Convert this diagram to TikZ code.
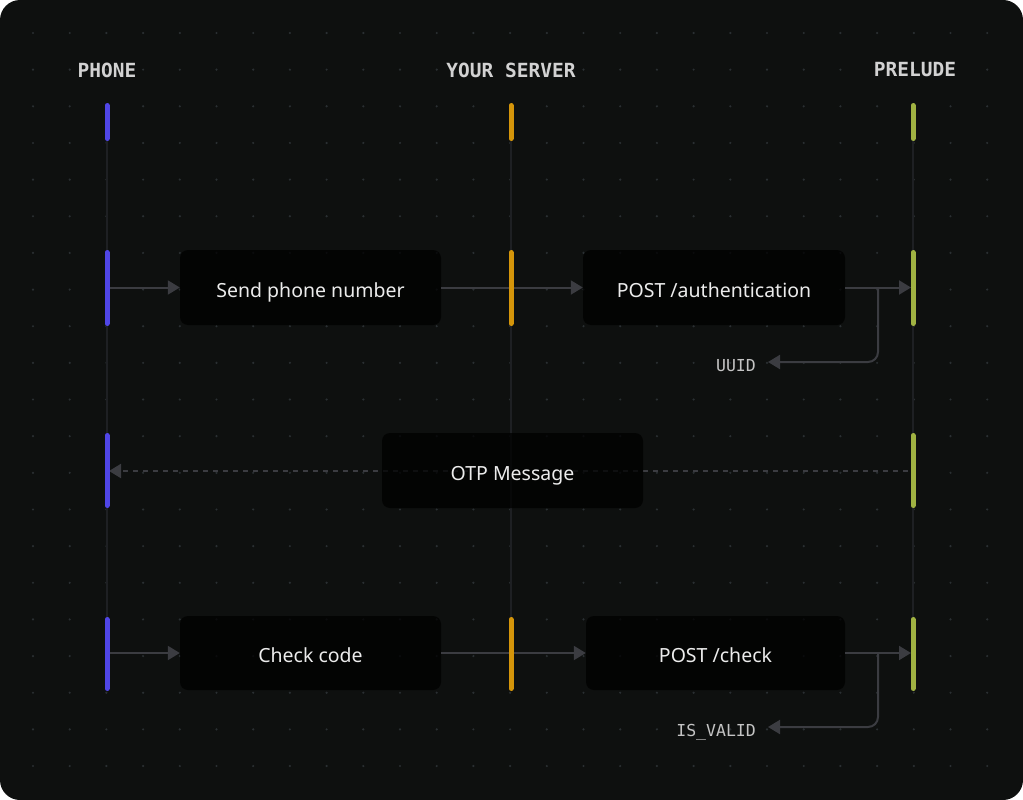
\documentclass[tikz,border=0pt]{standalone}
\usepackage{fontspec}
\setmainfont{Noto Sans}
\setmonofont{DejaVu Sans Mono}
\usetikzlibrary{arrows.meta}
\definecolor{bgc}{HTML}{0E100F}
\definecolor{dotc}{HTML}{2A2F32}
\definecolor{lifec}{HTML}{1E2023}
\definecolor{connc}{HTML}{3B3C41}
\definecolor{phonec}{HTML}{5046E6}
\definecolor{serverc}{HTML}{D4950A}
\definecolor{preludec}{HTML}{A0B242}
\definecolor{labelc}{HTML}{ECECEC}
\definecolor{headc}{HTML}{D2D2D2}
\definecolor{monoc}{HTML}{C4C4C4}
\begin{document}
\begin{tikzpicture}[x=1pt,y=-1pt,
  msgbox/.style={rectangle, rounded corners=8pt, fill=black, fill opacity=0.75, text opacity=1,
    text=labelc, font=\fontsize{19.5}{22}\selectfont, inner sep=0pt, text height=19pt, text depth=0pt},
  head/.style={text=headc, font=\ttfamily\bfseries\fontsize{19.5}{22}\selectfont, inner sep=0pt},
  retlabel/.style={text=monoc, font=\ttfamily\fontsize{16.5}{18}\selectfont, inner xsep=12pt, inner ysep=0pt,
    text height=18pt, text depth=0pt},
  conn/.style={draw=connc, line width=2pt, -{Triangle[length=12pt,width=14pt]}},
  otpdash/.style={dash pattern=on 5pt off 5pt},
  lifeline/.style={draw=lifec, line width=1.5pt},
  barline/.style={line width=5pt, line cap=round}]
\useasboundingbox (0,0) rectangle (1023,800);
\fill[white] (0,0) rectangle (1023,800);
\fill[bgc, rounded corners=20pt] (0,0) rectangle (1023,800);
% dot grid
\foreach \i in {0,...,26}{
  \foreach \j in {0,...,20}{
    \fill[dotc] (33+36.7*\i, 33+36.65*\j) circle (1.2pt);
  }
}
% headers
\node[head] (hphone) at (107,70) {PHONE};
\node[head] (hserver) at (511,70) {YOUR SERVER};
\node[head] (hprelude) at (915,70) {PRELUDE};
% lifeline coordinates
\coordinate (pT) at (107,105); \coordinate (pB) at (107,689);
\coordinate (sT) at (511,105); \coordinate (sB) at (511,689);
\coordinate (rT) at (913,105); \coordinate (rB) at (913,689);
\draw[lifeline] (pT) -- (pB);
\draw[lifeline] (sT) -- (sB);
\draw[lifeline] (rT) -- (rB);
% dashed OTP
\coordinate (rOtp) at (908,471);
\coordinate (pOtp) at (109,471);
\draw[conn, otpdash] (rOtp) -- (pOtp);
% boxes
\node[msgbox, minimum width=261pt, minimum height=75pt] (send) at (310.5,287.5) {Send phone number};
\node[msgbox, minimum width=262pt, minimum height=75pt] (auth) at (714,287.5) {POST /authentication};
\node[msgbox, minimum width=261pt, minimum height=75pt] (otp) at (512.5,470.5) {OTP Message};
\node[msgbox, minimum width=261pt, minimum height=74pt] (check) at (310.5,653) {Check code};
\node[msgbox, minimum width=259pt, minimum height=74pt] (pcheck) at (715.5,653) {POST /check};
% return labels
\node[retlabel, anchor=east] (uuid) at (768,362) {UUID};
\node[retlabel, anchor=east] (valid) at (768,727) {IS\_VALID};
% connectors row 1
\coordinate (p1) at (109,287.5);
\coordinate (r1) at (911,287.5);
\coordinate (b1) at (878,287.5);
\draw[conn] (p1) -- (send.west);
\draw[conn] (send.east) -- (auth.west);
\draw[conn] (auth.east) -- (r1);
\draw[conn, rounded corners=10pt] (b1) |- (uuid.east);
% connectors row 3
\coordinate (p3) at (109,653);
\coordinate (r3) at (911,653);
\coordinate (b3) at (878,653);
\draw[conn] (p3) -- (check.west);
\draw[conn] (check.east) -- (pcheck.west);
\draw[conn] (pcheck.east) -- (r3);
\draw[conn, rounded corners=10pt] (b3) |- (valid.east);
% activation bars
\draw[barline, phonec] (107,105.5) -- (107,138.5);
\draw[barline, serverc] (511,105.5) -- (511,138.5);
\draw[barline, preludec] (913,105.5) -- (913,138.5);
\draw[barline, phonec] (107,252.5) -- (107,323.5);
\draw[barline, serverc] (511,252.5) -- (511,323.5);
\draw[barline, preludec] (913,252.5) -- (913,323.5);
\draw[barline, phonec] (107,435.5) -- (107,505.5);
\draw[barline, preludec] (913,435.5) -- (913,505.5);
\draw[barline, phonec] (107,619.5) -- (107,688.5);
\draw[barline, serverc] (511,619.5) -- (511,688.5);
\draw[barline, preludec] (913,619.5) -- (913,688.5);
\end{tikzpicture}
\end{document}
